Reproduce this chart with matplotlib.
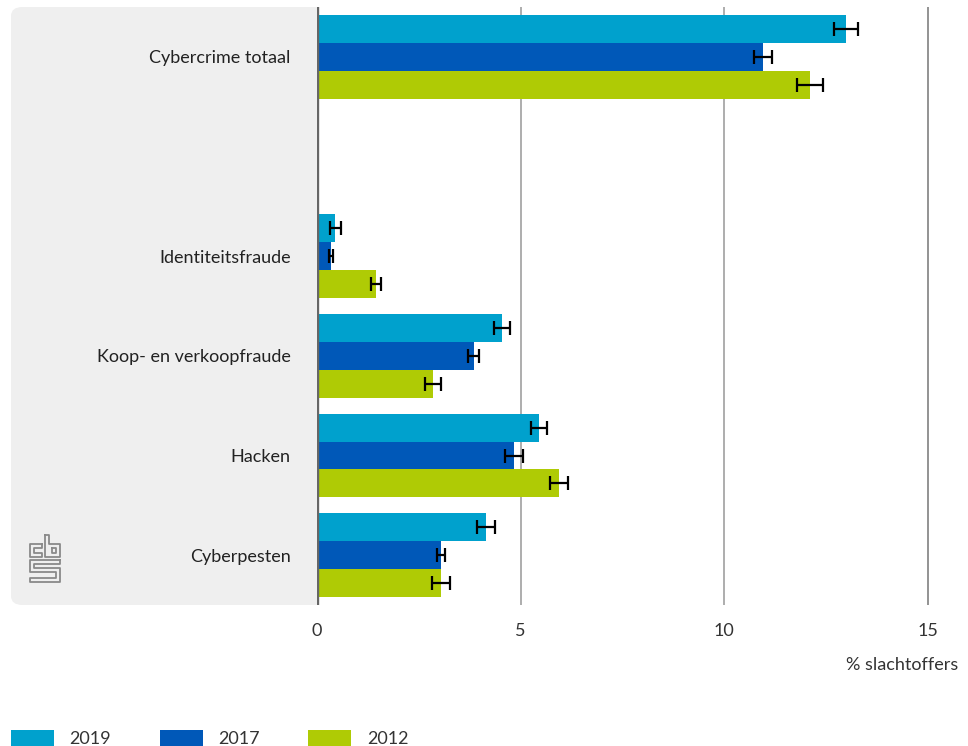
import matplotlib
matplotlib.use("Agg")
import matplotlib.pyplot as plt
import numpy as np
from matplotlib.patches import FancyBboxPatch
from matplotlib.lines import Line2D

plt.rcParams['font.family'] = ['Lato', 'DejaVu Sans']

categories = ["Cybercrime totaal", "Identiteitsfraude", "Koop- en verkoopfraude",
              "Hacken", "Cyberpesten"]
years = ["2019", "2017", "2012"]
colors = ["#00a1cd", "#0058b8", "#afcb05"]

v2019 = [13.0, 0.45, 4.55, 5.45, 4.15]
v2017 = [10.95, 0.35, 3.85, 4.85, 3.05]
v2012 = [12.1, 1.45, 2.85, 5.95, 3.05]
e2019 = [0.3, 0.13, 0.2, 0.2, 0.22]
e2017 = [0.22, 0.05, 0.14, 0.22, 0.1]
e2012 = [0.32, 0.13, 0.2, 0.22, 0.22]

xticks = [0, 5, 10, 15]
xlabel = "% slachtoffers"

W, H = 968, 746
fig = plt.figure(figsize=(W / 100, H / 100), dpi=100)


def fx(x):
    return x / W


def fy(y):
    return 1 - y / H


# grey label panel behind the category names
panel = FancyBboxPatch((fx(11), fy(605)), fx(330) - fx(11), fy(7) - fy(605),
                       boxstyle="round,pad=0,rounding_size=0.012",
                       transform=fig.transFigure, facecolor="#efefef",
                       edgecolor="none", zorder=-5)
fig.patches.append(panel)

ax = fig.add_axes([fx(317), fy(605), fx(948) - fx(317), fy(7) - fy(605)])
ax.set_facecolor("white")

pos = np.array([0, 2, 3, 4, 5])  # empty slot after the total
h = 0.28
offsets = [-h, 0, h]
vals = [v2019, v2017, v2012]
errs = [e2019, e2017, e2012]
for i, yr in enumerate(years):
    ax.barh(pos + offsets[i], vals[i], height=h, color=colors[i], label=yr, zorder=2)
    ax.errorbar(vals[i], pos + offsets[i], xerr=errs[i], fmt="none", ecolor="black",
                elinewidth=1.6, capsize=5, capthick=1.6, zorder=3)

ax.set_ylim(5.5, -0.5)
ax.set_xlim(0, 15.5)
for g in [5, 10]:
    ax.axvline(g, color="#a0a0a0", lw=1.2, zorder=1)
ax.axvline(15, color="#808080", lw=1.2, zorder=1)
ax.axvline(0, color="#666666", lw=2.4, zorder=4)

ax.set_yticks(pos)
ax.set_yticklabels(categories, fontsize=13, color="#222222")
ax.tick_params(axis="y", length=0, pad=19)
ax.set_xticks(xticks)
ax.set_xticklabels([str(t) for t in xticks], fontsize=13, color="#333333")
ax.tick_params(axis="x", length=0, pad=13)
for s in ax.spines.values():
    s.set_visible(False)

fig.text(fx(958), fy(665), xlabel, ha="right", va="center", fontsize=13, color="#333333")

# legend
fig.legend(loc="lower left", bbox_to_anchor=(fx(11), fy(747)), ncol=3, frameon=False,
           fontsize=13, handlelength=2.38, handleheight=0.94, handletextpad=0.85,
           columnspacing=2.7, borderpad=0, borderaxespad=0, labelcolor="#333333")

# cbs logo
logo = [
    [(42, 544), (30, 544), (30, 557), (42, 557), (42, 553), (34, 553), (34, 548), (42, 548), (42, 544)],
    [(45, 535), (45, 557), (60, 557), (60, 544), (49, 544), (49, 535), (45, 535)],
    [(52, 548), (56, 548), (56, 553), (52, 553), (52, 548)],
    [(60, 560), (30, 560), (30, 572), (56, 572), (56, 578), (30, 578), (30, 582), (60, 582),
     (60, 568), (34, 568), (34, 564), (60, 564), (60, 560)],
]
for path in logo:
    xs = [fx(p[0]) for p in path]
    ys = [fy(p[1]) for p in path]
    fig.add_artist(Line2D(xs, ys, transform=fig.transFigure, color="#8a8a8a", lw=1.3))

fig.savefig("out.png", dpi=100)
